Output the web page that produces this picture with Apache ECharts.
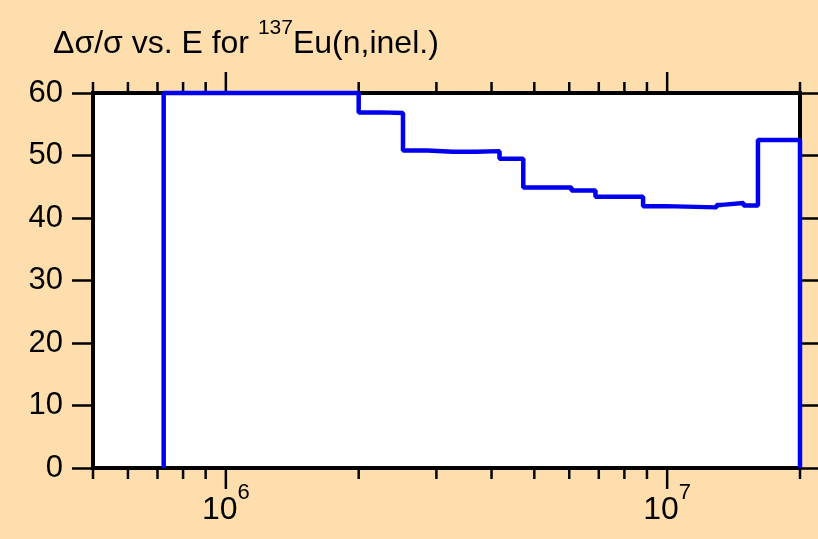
<!DOCTYPE html>
<html>
<head>
<meta charset="utf-8">
<script src="https://cdn.jsdelivr.net/npm/echarts@6/dist/echarts.min.js"></script>
<style>
html,body{margin:0;padding:0;background:#FFDEAD;}
#c{width:818px;height:539px;}
</style>
</head>
<body>
<div id="c"></div>
<script>
// Group lower boundaries (eV) and relative uncertainty (%) for each group
const energyBounds = [7.23e5, 2.0e6, 2.24e6, 2.52e6, 2.86e6, 3.27e6, 3.69e6, 4.17e6, 4.72e6, 6.07e6, 6.88e6, 8.82e6, 9.91e6, 1.294e7, 1.33e7, 1.49e7, 1.606e7, 2.0e7];
const uncertainty = [60, 56.9, 56.8, 50.8, 50.6, 50.6, 50.7, 49.5, 44.9, 44.4, 43.4, 41.9, 41.7, 42.1, 42.4, 42.0, 52.5];
const xMin = 5e5, xMax = 2e7;
const yTicks = [0, 10, 20, 30, 40, 50, 60];
const majorXTicks = [1e6, 1e7];
const minorXTicks = [5e5, 6e5, 7e5, 8e5, 9e5, 2e6, 3e6, 4e6, 5e6, 6e6, 7e6, 8e6, 9e6, 2e7];

// step line points: start at 0, then hold each value, finish back to 0
const linePts = [[energyBounds[0], 0]];
for (let i = 0; i < uncertainty.length; i++) linePts.push([energyBounds[i], uncertainty[i]]);
linePts.push([energyBounds[energyBounds.length - 1], uncertainty[uncertainty.length - 1]]);
linePts.push([energyBounds[energyBounds.length - 1], 0]);

const tickData = majorXTicks.map(v => [v, 1]).concat(minorXTicks.map(v => [v, 0]));

const FONT = 'Liberation Sans, Arial, sans-serif';
const chart = echarts.init(document.getElementById('c'), null, {renderer: 'canvas'});
chart.setOption({
  backgroundColor: '#FFDEAD',
  animation: false,
  title: {
    text: '{a|\u0394\u03c3/\u03c3 vs. E for }{s|137}{a|Eu(n,inel.)}',
    left: 48, top: 13,
    textStyle: {
      rich: {
        a: {fontFamily: FONT, fontSize: 32, fontWeight: 'normal', color: '#000', lineHeight: 42, verticalAlign: 'bottom'},
        s: {fontFamily: FONT, fontSize: 21, fontWeight: 'normal', color: '#000', lineHeight: 42, verticalAlign: 'top'}
      }
    }
  },
  grid: {
    left: 93, right: 18, top: 93, bottom: 71,
    show: true, backgroundColor: '#ffffff', borderColor: '#000', borderWidth: 4
  },
  xAxis: [{
    type: 'log', logBase: 10, min: xMin, max: xMax,
    axisLine: {show: false},
    axisTick: {show: false},
    splitLine: {show: false},
    axisLabel: {
      show: true, margin: 14, showMinLabel: false, showMaxLabel: false,
      formatter: function (v) {
        const p = Math.round(Math.log10(v));
        if (Math.abs(Math.pow(10, p) - v) / v > 1e-6) return '';
        return '{b|10}{e|' + p + '}';
      },
      rich: {
        b: {fontFamily: FONT, fontSize: 32, color: '#000', lineHeight: 44, verticalAlign: 'bottom'},
        e: {fontFamily: FONT, fontSize: 22, color: '#000', lineHeight: 44, verticalAlign: 'top'}
      }
    }
  }],
  yAxis: [{
    type: 'value', min: 0, max: 60, interval: 10, position: 'left',
    axisLine: {show: false},
    axisTick: {show: true, length: 21, inside: false, lineStyle: {color: '#000', width: 2.5}},
    splitLine: {show: false},
    axisLabel: {fontFamily: FONT, fontSize: 31, color: '#000', margin: 30}
  }, {
    type: 'value', min: 0, max: 60, interval: 10, position: 'right',
    axisLine: {show: false},
    axisTick: {show: true, length: 21, inside: false, lineStyle: {color: '#000', width: 2.5}},
    splitLine: {show: false},
    axisLabel: {show: false}
  }],
  series: [{
    type: 'custom',
    data: tickData,
    clip: false,
    silent: true,
    z: 1,
    renderItem: function (params, api) {
      const cs = params.coordSys;
      const x = api.coord([api.value(0), 1])[0];
      const len = api.value(1) ? 21 : 11;
      const yb = cs.y + cs.height, yt = cs.y;
      const st = {stroke: '#000', lineWidth: 2.5};
      return {type: 'group', children: [
        {type: 'line', shape: {x1: x, y1: yb, x2: x, y2: yb + len}, style: st},
        {type: 'line', shape: {x1: x, y1: yt, x2: x, y2: yt - len}, style: st}
      ]};
    }
  }, {
    type: 'line',
    data: linePts,
    step: 'end',
    showSymbol: false,
    clip: false,
    z: 3,
    lineStyle: {color: '#0000ee', width: 4.5},
    silent: true
  }]
});
</script>
</body>
</html>
